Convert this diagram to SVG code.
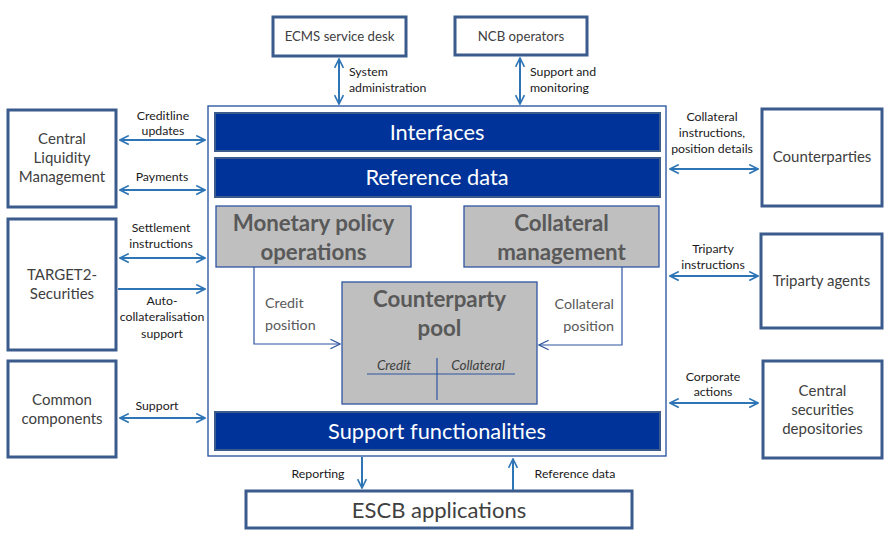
<svg xmlns="http://www.w3.org/2000/svg" width="889" height="539" viewBox="0 0 889 539">
<defs>
<style>
.ext{fill:#fff;stroke:#3b5b8d;stroke-width:3}
.bar{fill:#003399;stroke:#3b5b8d;stroke-width:2}
.mod{fill:#bfbfbf;stroke:#2f55a0;stroke-width:1.3}
.t{font-family:Lato,"Liberation Sans",sans-serif;fill:#404040;text-anchor:middle}
.lb{font-family:Lato,"Liberation Sans",sans-serif;fill:#1a1a1a;font-size:12.3px;text-anchor:middle}
.bt{font-family:Lato,"Liberation Sans",sans-serif;fill:#fff;font-size:21.8px;text-anchor:middle}
.mt{font-family:Lato,"Liberation Sans",sans-serif;fill:#595959;font-size:22.3px;font-weight:bold;text-anchor:middle}
.cn{fill:none;stroke:#2e75b6;stroke-width:2}
.th{fill:none;stroke:#2f55a0;stroke-width:1.2}
.gl{font-family:Lato,"Liberation Sans",sans-serif;fill:#595959;font-size:14.3px}
.it{font-family:Lato,"Liberation Sans",sans-serif;font-style:italic;font-size:13.5px;fill:#404040;text-anchor:middle}
</style>
<marker id="ah" viewBox="0 0 10 10" refX="9" refY="5" markerWidth="5.5" markerHeight="5.5" orient="auto-start-reverse" markerUnits="strokeWidth">
<path d="M1,1 L9,5 L1,9" fill="none" stroke="#2e75b6" stroke-width="1.5"/>
</marker>
<marker id="ah2" viewBox="0 0 10 10" refX="9" refY="5" markerWidth="10" markerHeight="10" orient="auto" markerUnits="strokeWidth">
<path d="M1,1 L9,5 L1,9" fill="none" stroke="#2f55a0" stroke-width="1"/>
</marker>
</defs>
<rect width="889" height="539" fill="#fff"/>

<g id="ecms">
<rect x="273" y="17" width="133" height="39" class="ext"/>
<text x="339.5" y="41" class="t" font-size="13.2">ECMS service desk</text>
</g>
<g id="ncb">
<rect x="455" y="17" width="132" height="38" class="ext"/>
<text x="521" y="41" class="t" font-size="13.2">NCB operators</text>
</g>

<g id="ecms-system">
<rect x="208" y="106" width="458" height="350" fill="#fff" stroke="#1f4e9c" stroke-width="1.3"/>
</g>
<g id="interfaces">
<rect x="215" y="113" width="445" height="38" class="bar"/>
<text x="437" y="140" class="bt">Interfaces</text>
</g>
<g id="refdata">
<rect x="215" y="158" width="445" height="39" class="bar"/>
<text x="437" y="185" class="bt">Reference data</text>
</g>
<g id="mpo">
<rect x="216" y="206" width="195" height="61" class="mod"/>
<text x="313.5" y="231" class="mt">Monetary policy</text>
<text x="313.5" y="260" class="mt">operations</text>
</g>
<g id="colmgmt">
<rect x="464" y="206" width="195" height="61" class="mod"/>
<text x="561.5" y="231" class="mt">Collateral</text>
<text x="561.5" y="260" class="mt">management</text>
</g>
<g id="pool">
<rect x="342" y="282" width="195" height="122" class="mod"/>
<text x="439.5" y="307" class="mt">Counterparty</text>
<text x="439.5" y="336" class="mt">pool</text>
<line x1="367" y1="374" x2="515" y2="374" stroke="#2f55a0" stroke-width="1.2"/>
<line x1="437" y1="358" x2="437" y2="400" stroke="#2f55a0" stroke-width="1.2"/>
<text x="394" y="370" class="it">Credit</text>
<text x="478" y="370" class="it">Collateral</text>
</g>
<g id="support">
<rect x="215" y="412" width="445" height="38" class="bar"/>
<text x="437" y="439" class="bt">Support functionalities</text>
</g>

<g id="clm">
<rect x="8" y="110" width="108" height="97" class="ext"/>
<text x="62" y="144" class="t" font-size="15">Central</text>
<text x="62" y="163" class="t" font-size="15">Liquidity</text>
<text x="62" y="182" class="t" font-size="15">Management</text>
</g>
<g id="t2s">
<rect x="8" y="219" width="108" height="131" class="ext"/>
<text x="62" y="280" class="t" font-size="15">TARGET2-</text>
<text x="62" y="299" class="t" font-size="15">Securities</text>
</g>
<g id="common">
<rect x="8" y="361" width="108" height="96" class="ext"/>
<text x="62" y="405" class="t" font-size="15">Common</text>
<text x="62" y="424" class="t" font-size="15">components</text>
</g>
<g id="counterparties">
<rect x="762" y="109" width="120" height="97" class="ext"/>
<text x="822" y="162" class="t" font-size="15">Counterparties</text>
</g>
<g id="triparty">
<rect x="761" y="234" width="121" height="94" class="ext"/>
<text x="821.5" y="286" class="t" font-size="15">Triparty agents</text>
</g>
<g id="csd">
<rect x="763" y="361" width="119" height="97" class="ext"/>
<text x="822.5" y="396" class="t" font-size="15">Central</text>
<text x="822.5" y="415" class="t" font-size="15">securities</text>
<text x="822.5" y="434" class="t" font-size="15">depositories</text>
</g>
<g id="escb">
<rect x="246" y="491" width="386" height="37" class="ext"/>
<text x="439" y="518" class="t" font-size="22">ESCB applications</text>
</g>

<g id="connectors">
<line x1="339" y1="59" x2="339" y2="104" class="cn" marker-start="url(#ah)" marker-end="url(#ah)"/>
<line x1="520" y1="58" x2="520" y2="104" class="cn" marker-start="url(#ah)" marker-end="url(#ah)"/>
<line x1="120" y1="140" x2="205" y2="140" class="cn" marker-start="url(#ah)" marker-end="url(#ah)"/>
<line x1="120" y1="190" x2="205" y2="190" class="cn" marker-start="url(#ah)" marker-end="url(#ah)"/>
<line x1="120" y1="258" x2="205" y2="258" class="cn" marker-start="url(#ah)" marker-end="url(#ah)"/>
<line x1="118" y1="289" x2="205" y2="289" class="cn" marker-end="url(#ah)"/>
<line x1="120" y1="418" x2="205" y2="418" class="cn" marker-start="url(#ah)" marker-end="url(#ah)"/>
<line x1="670" y1="169" x2="758" y2="169" class="cn" marker-start="url(#ah)" marker-end="url(#ah)"/>
<line x1="670" y1="276" x2="758" y2="276" class="cn" marker-start="url(#ah)" marker-end="url(#ah)"/>
<line x1="670" y1="403" x2="758" y2="403" class="cn" marker-start="url(#ah)" marker-end="url(#ah)"/>
<line x1="362" y1="457" x2="362" y2="488" class="cn" marker-end="url(#ah)"/>
<line x1="513" y1="490" x2="513" y2="459" class="cn" marker-end="url(#ah)"/>
<polyline points="254,267 254,344 340,344" class="th" marker-end="url(#ah2)"/>
<polyline points="622,267 622,345 539,345" class="th" marker-end="url(#ah2)"/>

<text x="349" y="76" class="lb" style="text-anchor:start">System</text>
<text x="349" y="92" class="lb" style="text-anchor:start">administration</text>
<text x="530" y="76" class="lb" style="text-anchor:start">Support and</text>
<text x="530" y="92" class="lb" style="text-anchor:start">monitoring</text>
<text x="163" y="120" class="lb">Creditline</text>
<text x="163" y="135" class="lb">updates</text>
<text x="162" y="181" class="lb">Payments</text>
<text x="161" y="232" class="lb">Settlement</text>
<text x="161" y="248" class="lb">instructions</text>
<text x="162" y="305" class="lb">Auto-</text>
<text x="162" y="321" class="lb">collateralisation</text>
<text x="162" y="338" class="lb">support</text>
<text x="157" y="410" class="lb">Support</text>
<text x="712" y="121" class="lb">Collateral</text>
<text x="712" y="137" class="lb">instructions,</text>
<text x="712" y="153" class="lb">position details</text>
<text x="713" y="253" class="lb">Triparty</text>
<text x="713" y="269" class="lb">instructions</text>
<text x="713" y="381" class="lb">Corporate</text>
<text x="713" y="396" class="lb">actions</text>
<text x="318" y="478" class="lb">Reporting</text>
<text x="575" y="478" class="lb">Reference data</text>
<text x="265" y="308" class="gl">Credit</text>
<text x="265" y="330" class="gl">position</text>
<text x="614" y="309" class="gl" text-anchor="end">Collateral</text>
<text x="614" y="331" class="gl" text-anchor="end">position</text>
</g>
</svg>
